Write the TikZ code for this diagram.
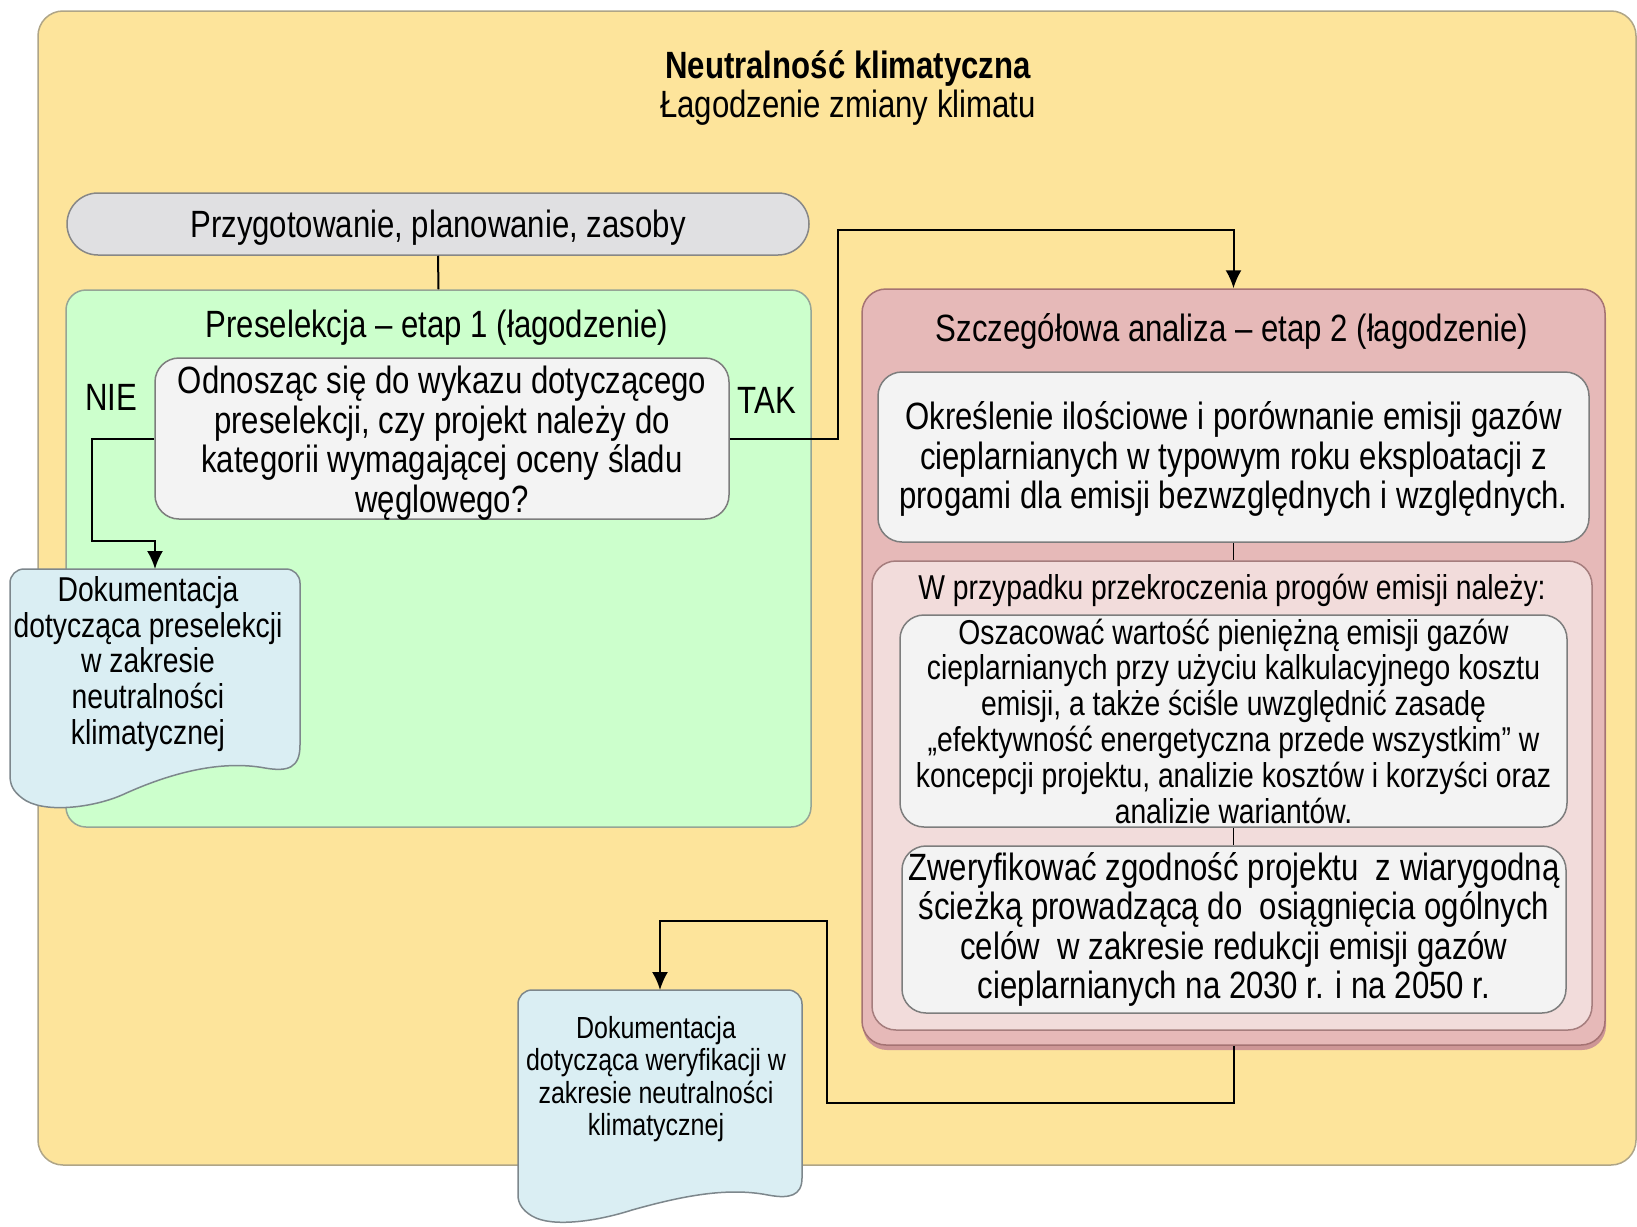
\documentclass[tikz,border=0pt]{standalone}
\usepackage{fontspec}
\setmainfont{Liberation Sans}[FakeStretch=0.82]
\usetikzlibrary{arrows.meta}
\definecolor{ybg}{RGB}{253,228,155}
\definecolor{yedge}{RGB}{175,165,135}
\definecolor{gfill}{RGB}{224,224,226}
\definecolor{gedge}{RGB}{135,135,135}
\definecolor{grfill}{RGB}{204,255,204}
\definecolor{gredge}{RGB}{150,165,150}
\definecolor{wfill}{RGB}{243,243,243}
\definecolor{wedge}{RGB}{125,125,125}
\definecolor{rfill}{RGB}{230,185,184}
\definecolor{redge}{RGB}{165,115,115}
\definecolor{rshadow}{RGB}{205,150,150}
\definecolor{pfill}{RGB}{242,220,219}
\definecolor{pedge}{RGB}{165,125,125}
\definecolor{dfill}{RGB}{218,238,243}
\definecolor{dedge}{RGB}{125,135,140}
\begin{document}
\begin{tikzpicture}[x=0.5pt,y=-0.5pt,
  big/.style={font=\fontsize{19}{19.75}\selectfont},
  med/.style={font=\fontsize{17.25}{17.9}\selectfont},
  sml/.style={font=\fontsize{15.25}{16.2}\selectfont},
  box/.style={line width=0.75pt, rounded corners=12pt, inner sep=0pt, align=center},
  whitebox/.style={box, draw=wedge, fill=wfill},
  docshape/.style={draw=dedge, fill=dfill, line width=0.75pt},
  conn/.style={line width=1pt, draw=black},
  arr/.style={conn, -{Latex[length=9pt,width=8pt]}},
  lbl/.style={inner sep=0pt, align=center}]
\fill[white] (0,0) rectangle (1637,1226);
\useasboundingbox (0,0) rectangle (1637,1226);
% background panel
\draw[fill=ybg, draw=yedge, line width=0.75pt, rounded corners=12.5pt] (38,11) rectangle (1636,1165);
\node[lbl, font=\bfseries\fontsize{19}{19.75}\selectfont] (title) at (848,69) {Neutralność klimatyczna};
\node[lbl, big] (subtitle) at (848,108) {Łagodzenie zmiany klimatu};
% preparation
\node[box, draw=gedge, fill=gfill, rounded corners=15.5pt, minimum width=371pt, minimum height=31pt] (prep) at (438,224) {};
\node[lbl, big] (preptext) at (438,228) {Przygotowanie, planowanie, zasoby};
% stage 1
\node[box, draw=gredge, fill=grfill, rounded corners=10pt, minimum width=372.5pt, minimum height=268.5pt] (stage1) at (438.5,558.5) {};
\node[lbl, big] (stage1title) at (437,328) {Preselekcja – etap 1 (łagodzenie)};
\node[whitebox, minimum width=287pt, minimum height=80.5pt] (q) at (442,438.5) {};
\node[lbl, big] (qtext) at (442,443) {Odnosząc się do wykazu dotyczącego\\preselekcji, czy projekt należy do\\kategorii wymagającej oceny śladu\\węglowego?};
\node[lbl, big] (nie) at (111,397) {NIE};
\node[lbl, big] (tak) at (767,400) {TAK};
% document 1
\path[docshape] (10,775) [rounded corners=7pt] -- (10,569) -- (300,569) [sharp corners] -- (300,745)
  .. controls (300,768) and (288,772) .. (265,768)
  .. controls (222,760) and (172,772) .. (122,795)
  .. controls (92,808) and (42,814) .. (22,798)
  .. controls (13,791) and (10,785) .. (10,775) -- cycle;
\coordinate (doc1top) at (155,569);
\node[lbl, med] (doc1) at (148,664) {Dokumentacja\\dotycząca preselekcji\\w zakresie\\neutralności\\klimatycznej};
% stage 2
\fill[rshadow, rounded corners=12pt] (863,294) rectangle (1606,1050);
\node[box, draw=redge, fill=rfill, minimum width=371.5pt, minimum height=378pt] (stage2) at (1233.5,667) {};
\node[lbl, big] (stage2title) at (1232,331) {Szczegółowa analiza – etap 2 (łagodzenie)};
\node[whitebox, minimum width=355.5pt, minimum height=85pt] (quant) at (1233.5,457) {};
\node[lbl, big] (quanttext) at (1233.5,459) {Określenie ilościowe i porównanie emisji gazów\\cieplarnianych w typowym roku eksploatacji z\\progami dla emisji bezwzględnych i względnych.};
\node[box, draw=pedge, fill=pfill, minimum width=360pt, minimum height=234.5pt] (exceed) at (1232,795.5) {};
\node[lbl, med] (exceedtitle) at (1232,590) {W przypadku przekroczenia progów emisji należy:};
\node[whitebox, med, minimum width=333.5pt, minimum height=106pt] (value) at (1233.5,721) {Oszacować wartość pieniężną emisji gazów\\cieplarnianych przy użyciu kalkulacyjnego kosztu\\emisji, a także ściśle uwzględnić zasadę\\„efektywność energetyczna przede wszystkim” w\\koncepcji projektu, analizie kosztów i korzyści oraz\\analizie wariantów.};
\node[whitebox, big, minimum width=332pt, minimum height=83.5pt] (verify) at (1234,929.5) {Zweryfikować zgodność projektu\ \ z wiarygodną\\ścieżką prowadzącą do\ \ osiągnięcia ogólnych\\celów\ \ w zakresie redukcji emisji gazów\\cieplarnianych na 2030 r. i na 2050 r.};
% document 2
\path[docshape] (518,1195) [rounded corners=7pt] -- (518,990) -- (802,990) [sharp corners] -- (802,1178)
  .. controls (802,1196) and (789,1199) .. (768,1195)
  .. controls (727,1187) and (682,1196) .. (632,1210)
  .. controls (598,1221) and (552,1228) .. (532,1216)
  .. controls (522,1210) and (518,1203) .. (518,1195) -- cycle;
\coordinate (doc2top) at (660,990);
\node[lbl, sml] (doc2) at (656,1079) {Dokumentacja\\dotycząca weryfikacji w\\zakresie neutralności\\klimatycznej};
% connectors
\coordinate (tk) at (838,230);
\coordinate (nb) at (92,541);
\coordinate (b1) at (827,1103);
\coordinate (b2) at (827,921);
\draw[conn] (prep.south) -- (stage1.north);
\draw[arr] (q.east) -| (tk) -| (stage2.north);
\draw[arr] (q.west) -| (nb) -| (doc1top);
\draw[conn, line width=0.75pt] (quant.south) -- (quant.south |- exceed.north);
\draw[conn, line width=0.75pt] (value.south) -- (value.south |- verify.north);
\draw[arr] (stage2.south) |- (b1) -- (b2) -| (doc2top);
\end{tikzpicture}
\end{document}
